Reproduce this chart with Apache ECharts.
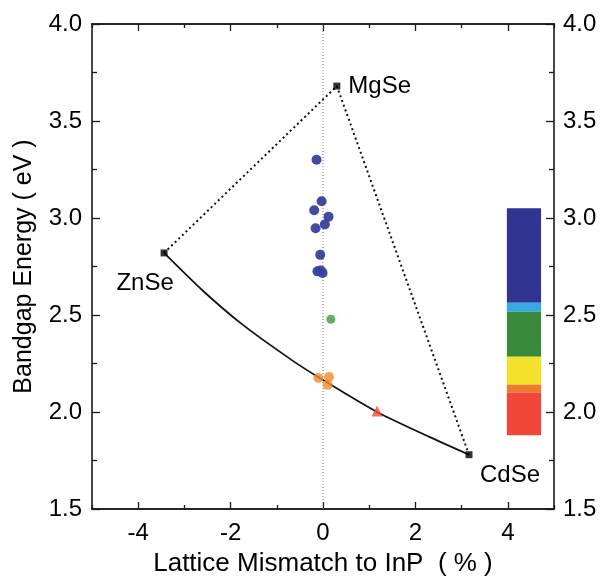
<!DOCTYPE html>
<html>
<head>
<meta charset="utf-8">
<script src="https://cdn.jsdelivr.net/npm/echarts@6/dist/echarts.min.js"></script>
<style>html,body{margin:0;padding:0;background:#fff}#c{width:600px;height:582px}</style>
</head>
<body>
<div id="c"></div>
<script>
// ---- data ----
var xMajorTicks = [-4, -2, 0, 2, 4];
var xMinorTicks = [-5, -3, -1, 1, 3, 5];
var endpoints = [
  { name: 'ZnSe', x: -3.44, y: 2.82 },
  { name: 'MgSe', x: 0.30, y: 3.68 },
  { name: 'CdSe', x: 3.16, y: 1.78 }
];
var bowingCurve = [[-3.44, 2.82], [-2.6, 2.625], [-1.74, 2.45], [-0.66, 2.265], [0, 2.165], [1.17, 2.0], [2.29, 1.873], [3.16, 1.78]];
var dottedEdges = [[-3.44, 2.82], [0.30, 3.68], [3.16, 1.78]];
var blueSamples = [[-0.14, 3.30], [-0.03, 3.086], [-0.19, 3.04], [0.12, 3.007], [0.04, 2.967], [-0.16, 2.947], [-0.06, 2.81], [-0.12, 2.725], [-0.01, 2.717], [-0.05, 2.73]];
var greenSamples = [[0.17, 2.478]];
var orangeSamples = [[-0.10, 2.175], [0.13, 2.18], [0.10, 2.14]];
var redSamples = [[1.17, 2.005]];
var colorBarX = [3.98, 4.72];
var colorBands = [
  { from: 3.05, to: 2.563, color: '#2f3591' },
  { from: 2.563, to: 2.517, color: '#38a9e2' },
  { from: 2.517, to: 2.285, color: '#388a3a' },
  { from: 2.285, to: 2.14, color: '#f3e12a' },
  { from: 2.14, to: 2.10, color: '#f2792e' },
  { from: 2.10, to: 1.88, color: '#f24638' }
];
var labelOffsets = { ZnSe: [-19, 30], MgSe: [0, 0], CdSe: [41, 21] };

var FONT = '"Liberation Sans", Arial, Helvetica, sans-serif';
var AX = '#1a1a1a';
var TXT = '#000';

function xAxisDef(pos, ticks, len, showLabel) {
  return {
    type: 'value', position: pos, min: -5, max: 5,
    axisLine: { show: true, onZero: false, lineStyle: { color: AX, width: 1.6 } },
    splitLine: { show: false },
    axisTick: { show: true, inside: true, length: len, customValues: ticks, lineStyle: { color: AX, width: 1.3 } },
    axisLabel: showLabel ? { show: true, customValues: xMajorTicks, margin: 12, color: TXT, fontSize: 24, fontFamily: FONT,
      formatter: function (v) { return String(v); } } : { show: false }
  };
}

var xAxes = [
  xAxisDef('bottom', xMajorTicks, 7, true),
  xAxisDef('bottom', xMinorTicks, 4, false),
  xAxisDef('top', xMajorTicks, 7, false),
  xAxisDef('top', xMinorTicks, 4, false)
];
xAxes[0].name = 'Lattice Mismatch to InP  ( % )';
xAxes[0].nameLocation = 'middle';
xAxes[0].nameGap = 42;
xAxes[0].nameTextStyle = { fontSize: 26, fontFamily: FONT, color: TXT };

function yAxisDef(pos) {
  return {
    type: 'value', position: pos, min: 1.5, max: 4.0, interval: 0.5,
    axisLine: { show: true, onZero: false, lineStyle: { color: AX, width: 1.6 } },
    splitLine: { show: false },
    axisTick: { show: true, inside: true, length: 8, lineStyle: { color: AX, width: 1.3 } },
    minorTick: { show: true, splitNumber: 2, length: 5, lineStyle: { color: AX, width: 1.3 } },
    axisLabel: { show: true, margin: pos === 'left' ? 10 : 9, color: TXT, fontSize: 24, fontFamily: FONT,
      formatter: function (v) { return v.toFixed(1); } }
  };
}
var yAxes = [yAxisDef('left'), yAxisDef('right')];
yAxes[0].name = 'Bandgap Energy ( eV )';
yAxes[0].nameLocation = 'middle';
yAxes[0].nameGap = 55;
yAxes[0].nameTextStyle = { fontSize: 25, fontFamily: FONT, color: TXT };

var markAreaData = colorBands.map(function (b) {
  return [{ xAxis: colorBarX[0], yAxis: b.from, itemStyle: { color: b.color } }, { xAxis: colorBarX[1], yAxis: b.to }];
});

var option = {
  animation: false,
  backgroundColor: '#fff',
  grid: { left: 92, right: 46, top: 24, bottom: 69 },
  xAxis: xAxes,
  yAxis: yAxes,
  series: [
    { type: 'line', data: [], markArea: { silent: true, itemStyle: { opacity: 1 }, data: markAreaData } },
    { type: 'line', data: [[0, 1.5], [0, 4.0]], symbol: 'none',
      lineStyle: { color: '#777', width: 1, type: [1, 2] }, z: 1 },
    { type: 'line', data: dottedEdges, symbol: 'none',
      lineStyle: { color: '#111', width: 2, type: [2, 3] }, z: 2 },
    { type: 'line', data: bowingCurve, smooth: 0.25, symbol: 'none',
      lineStyle: { color: '#111', width: 1.7 }, z: 3 },
    { type: 'scatter', data: blueSamples, symbol: 'circle', symbolSize: 10,
      itemStyle: { color: '#3b3f9e', opacity: 0.95 }, z: 4 },
    { type: 'scatter', data: greenSamples, symbol: 'circle', symbolSize: 9,
      itemStyle: { color: '#3e9a3c' }, z: 4 },
    { type: 'scatter', data: orangeSamples, symbol: 'circle', symbolSize: 10,
      itemStyle: { color: '#f38a2a' }, z: 4 },
    { type: 'scatter', data: redSamples, symbol: 'triangle', symbolSize: 11,
      itemStyle: { color: '#f24a3c' }, z: 4 },
    { type: 'scatter', symbol: 'rect', symbolSize: 7, itemStyle: { color: '#000' }, z: 5,
      data: endpoints.map(function (p) {
        var off = labelOffsets[p.name];
        return { value: [p.x, p.y], name: p.name,
          label: { show: true, formatter: p.name, fontSize: 24, fontFamily: FONT, color: TXT, opacity: 1,
            textBorderWidth: 0, position: p.name === 'MgSe' ? 'right' : 'inside', distance: 8, offset: off } };
      }) }
  ]
};
var chart = echarts.init(document.getElementById('c'), null, { renderer: 'canvas' });
chart.setOption(option);
</script>
</body>
</html>
